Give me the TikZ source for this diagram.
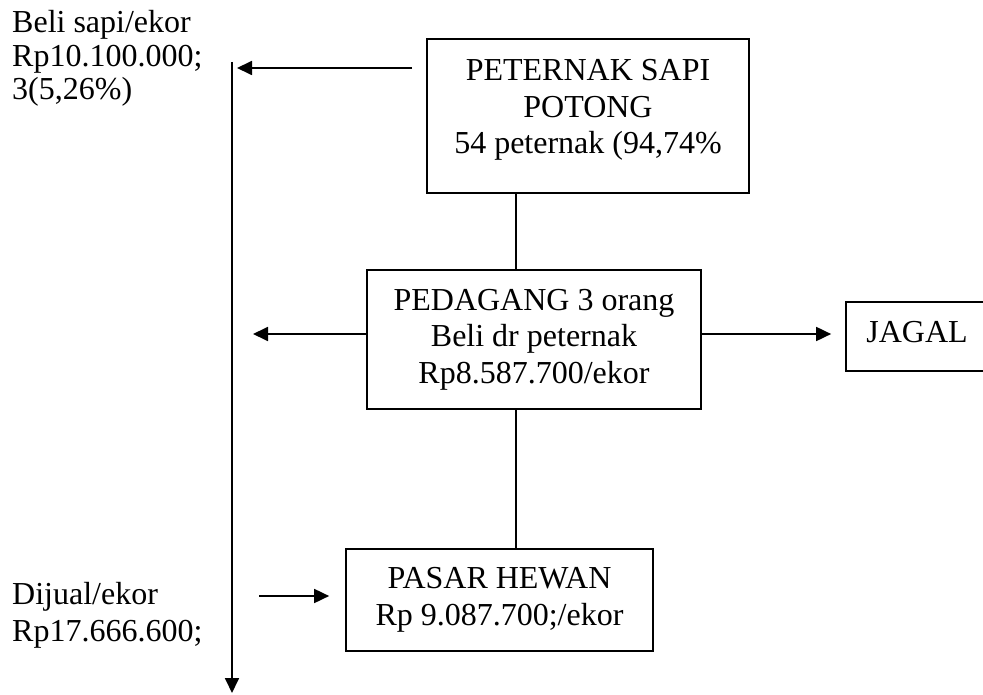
\documentclass[tikz,border=0pt]{standalone}
\usepackage{fontspec}
\setmainfont{Liberation Serif}
\usetikzlibrary{arrows.meta}
\begin{document}
\begin{tikzpicture}[x=1pt,y=-1pt,
  box/.style={draw, line width=1.7pt, inner sep=0pt},
  txt/.style={inner sep=0pt, align=center, font=\fontsize{32}{36.5}\selectfont},
  ltxt/.style={inner sep=0pt, align=left, font=\fontsize{32}{33.5}\selectfont},
  conn/.style={line width=1.8pt},
  arr/.style={line width=1.8pt, -{Triangle[length=15pt,width=14pt]}}]
\useasboundingbox (0,0) rectangle (983,695);
\clip (0,0) rectangle (983,695);

% boxes
\node[box, minimum width=322pt, minimum height=154pt] (peternak) at (588,116) {};
\node[box, minimum width=334pt, minimum height=139pt] (pedagang) at (534,339.5) {};
\node[box, minimum width=149pt, minimum height=69pt] (jagal) at (920.5,336.5) {};
\node[box, minimum width=307pt, minimum height=102pt] (pasar) at (499.5,600) {};

% texts (anchored at the baseline of their last line)
\node[txt, anchor=base] (tpeternak) at (588,154) {PETERNAK SAPI\\POTONG\\54 peternak (94,74\%};
\node[txt, anchor=base] (tpedagang) at (534,383) {PEDAGANG 3 orang\\Beli dr peternak\\Rp8.587.700/ekor};
\node[txt, anchor=base] (tjagal) at (917,342) {JAGAL};
\node[txt, anchor=base] (tpasar) at (499.5,625) {PASAR HEWAN\\Rp 9.087.700;/ekor};
\node[ltxt, anchor=base west] (tbeli) at (12,100) {Beli sapi/ekor\\Rp10.100.000;\\3(5,26\%)};
\node[txt, align=left, anchor=base west] (tjual) at (12,641) {Dijual/ekor\\Rp17.666.600;};

% connectors
\coordinate (lx) at (516,0);
\coordinate (ay) at (0,334);
\coordinate (vtop) at (232,62);
\coordinate (vbot) at (232,693);
\coordinate (a1end) at (237,68);
\coordinate (a3end) at (253,334);
\coordinate (a4start) at (259,596);

\draw[arr] (vtop) -- (vbot);
\draw[arr] ([xshift=-14pt]peternak.west |- a1end) -- (a1end);
\draw[conn] (peternak.south -| lx) -- (pedagang.north -| lx);
\draw[conn] (pedagang.south -| lx) -- (pasar.north -| lx);
\draw[arr] (pedagang.east |- ay) -- ([xshift=-14pt]jagal.west |- ay);
\draw[arr] (pedagang.west |- ay) -- (a3end);
\draw[arr] (a4start) -- ([xshift=-16pt]pasar.west |- a4start);
\end{tikzpicture}
\end{document}
